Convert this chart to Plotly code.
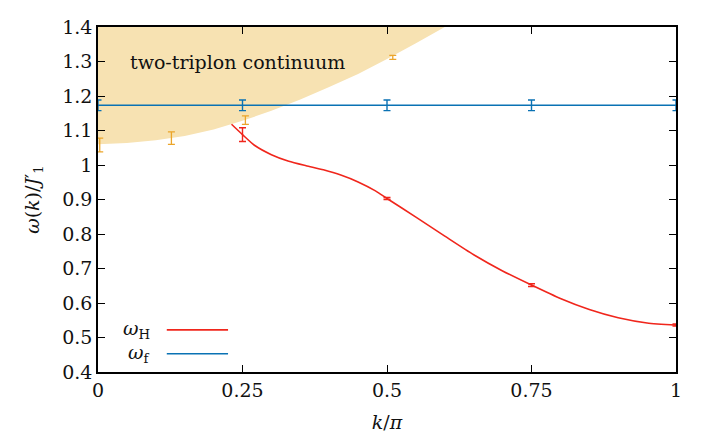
import plotly.graph_objects as go

# ---------------- data ----------------
# lower edge of the two-triplon continuum
cont_k = [0.0, 0.05, 0.10, 0.15, 0.20, 0.25, 0.30, 0.35, 0.40, 0.45, 0.50, 0.55, 0.60, 0.65]
cont_w = [1.060, 1.064, 1.072, 1.084, 1.103, 1.128, 1.157, 1.190, 1.226, 1.264, 1.307, 1.353, 1.400, 1.445]

# omega_H smooth curve
h_k = [0.231, 0.25, 0.27, 0.30, 0.33, 0.36, 0.39, 0.42, 0.45, 0.48, 0.50,
       0.55, 0.60, 0.65, 0.70, 0.75, 0.80, 0.85, 0.90, 0.95, 1.00]
h_w = [1.118, 1.088, 1.058, 1.030, 1.011, 0.998, 0.986, 0.971, 0.951, 0.925, 0.903,
       0.849, 0.794, 0.740, 0.693, 0.652, 0.613, 0.581, 0.557, 0.542, 0.536]

# omega_H data points with error bars
hp_k = [0.25, 0.50, 0.75, 1.00]
hp_w = [1.088, 0.903, 0.652, 0.536]
hp_e = [0.020, 0.003, 0.004, 0.003]

# omega_f (flat) with error bars
f_k = [0.0, 0.25, 0.50, 0.75, 1.0]
f_w = [1.173, 1.173, 1.173, 1.173, 1.173]
f_e = [0.0155, 0.0155, 0.0155, 0.0155, 0.0155]

# continuum edge data points (orange)
c_k = [0.003, 0.127, 0.255, 0.51]
c_w = [1.058, 1.078, 1.130, 1.312]
c_e = [0.020, 0.018, 0.0125, 0.006]

x_ticks = [0, 0.25, 0.5, 0.75, 1]
x_ticklabels = ["0", "0.25", "0.5", "0.75", "1"]
y_ticks = [0.4, 0.5, 0.6, 0.7, 0.8, 0.9, 1.0, 1.1, 1.2, 1.3, 1.4]
y_ticklabels = ["0.4", "0.5", "0.6", "0.7", "0.8", "0.9", "1", "1.1", "1.2", "1.3", "1.4"]

RED = "#f0261c"
BLUE = "#0a72b4"
ORANGE = "#eba52a"
FILL = "#f7e2b2"
FONT = "DejaVu Serif, Liberation Serif, serif"
FS = 19

fig = go.Figure()

# continuum fill (boundary then closed along top)
fig.add_trace(go.Scatter(
    x=cont_k + [cont_k[-1], 0.0], y=cont_w + [1.6, 1.6],
    fill="toself", fillcolor=FILL, mode="none", hoverinfo="skip", showlegend=False))

# orange error bars
fig.add_trace(go.Scatter(
    x=c_k, y=c_w, mode="markers", marker=dict(size=0.1, color=ORANGE),
    error_y=dict(type="data", array=c_e, color=ORANGE, thickness=1.3, width=3.5),
    showlegend=False, cliponaxis=True))

# omega_f line
fig.add_trace(go.Scatter(
    x=f_k, y=f_w, mode="lines", line=dict(color=BLUE, width=1.6),
    error_y=dict(type="data", array=f_e, color=BLUE, thickness=1.4, width=3.5),
    showlegend=False, cliponaxis=False))

# omega_H curve
fig.add_trace(go.Scatter(
    x=h_k, y=h_w, mode="lines", line=dict(color=RED, width=1.6, shape="spline", smoothing=0.6),
    showlegend=False))
fig.add_trace(go.Scatter(
    x=hp_k, y=hp_w, mode="markers", marker=dict(size=0.1, color=RED),
    error_y=dict(type="data", array=hp_e, color=RED, thickness=1.4, width=3.5),
    showlegend=False, cliponaxis=False))

# annotation inside continuum
fig.add_annotation(x=0.052, y=1.30, xref="x", yref="y", text="two-triplon continuum",
                   showarrow=False, xanchor="left", yanchor="middle",
                   font=dict(family=FONT, size=FS, color="#111111"))

# custom legend (text left, sample line right)
legend_items = [("<i>ω</i><sub>H</sub>", RED, 0.122), ("<i>ω</i><sub>f</sub>", BLUE, 0.053)]
for label, col, yp in legend_items:
    fig.add_annotation(x=0.093, y=yp, xref="paper", yref="paper", text=label,
                       showarrow=False, xanchor="right", yanchor="middle",
                       font=dict(family=FONT, size=FS, color="#111111"))
    fig.add_shape(type="line", xref="paper", yref="paper", x0=0.119, x1=0.225,
                  y0=yp, y1=yp, line=dict(color=col, width=1.6))

axis_common = dict(showgrid=False, zeroline=False, showline=True, linecolor="black",
                   linewidth=1.5, mirror="allticks", ticks="inside", ticklen=7,
                   tickwidth=1.3, tickcolor="black",
                   tickfont=dict(family=FONT, size=FS, color="#111111"))

fig.update_xaxes(range=[0, 1], tickvals=x_ticks, ticktext=x_ticklabels,
                 title=dict(text="<i>k</i>/<i>π</i>", font=dict(family=FONT, size=FS, color="#111111"),
                            standoff=16),
                 **axis_common)
fig.update_yaxes(range=[0.4, 1.4], tickvals=y_ticks, ticktext=y_ticklabels,
                 title=dict(text="<i>ω</i>(<i>k</i>)/<i>J</i>′<sub>1</sub>",
                            font=dict(family=FONT, size=FS, color="#111111"), standoff=18),
                 **axis_common)

fig.update_layout(width=718, height=446, margin=dict(l=98, r=42, t=27, b=74),
                  plot_bgcolor="white", paper_bgcolor="white")

fig.write_html("out.html")
